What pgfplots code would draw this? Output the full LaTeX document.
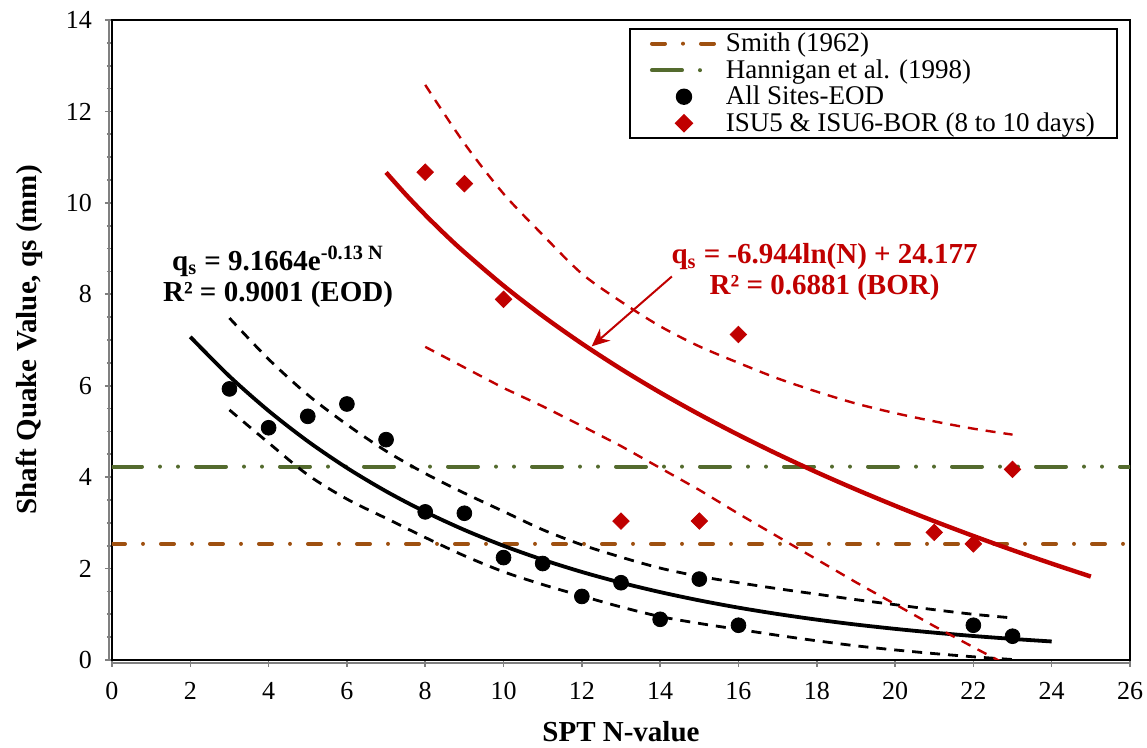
\documentclass[border=0pt]{standalone}
\usepackage{fontspec}
\setmainfont{Liberation Serif}
\usepackage{pgfplots}
\pgfplotsset{compat=1.18}
\usetikzlibrary{arrows.meta}
\definecolor{qred}{RGB}{192,0,0}
\definecolor{smithc}{RGB}{158,80,16}
\definecolor{hannc}{RGB}{84,107,46}
\definecolor{axgray}{RGB}{128,128,128}
\pgfplotsset{myleg/.style={legend image code/.code={\draw[mark repeat=2,mark phase=2,##1] plot coordinates {(0pt,0pt) (16pt,0pt) (32pt,0pt)};}}}
\begin{document}
\begin{tikzpicture}
\begin{axis}[
  scale only axis, width=509pt, height=320pt,
  xmin=0, xmax=26, ymin=0, ymax=14,
  xtick={0,2,...,26}, ytick={0,2,...,14},
  minor y tick num=3,
  xtick pos=left, ytick pos=left,
  tick align=outside,
  major tick length=3.5pt, minor tick length=2.5pt,
  tick style={axgray, line width=0.8pt},
  axis line style={black, line width=1.3pt},
  ticklabel style={font=\fontsize{13}{15}\selectfont},
  /pgf/number format/assume math mode=true,
  xticklabel style={yshift=-4pt},
  yticklabel style={xshift=-3pt},
  xlabel={SPT N-value},
  ylabel={Shaft Quake Value, qs (mm)},
  label style={font=\bfseries\fontsize{14.5}{17}\selectfont},
  xlabel style={at={(axis description cs:0.5,-0.127)}, anchor=base},
  ylabel style={at={(axis description cs:-0.081,0.5)}, anchor=center, rotate=0},
  clip mode=individual,
  legend style={at={(0.988,0.9875)}, anchor=north east, draw=black, line width=0.8pt,
    font=\fontsize{13.5}{13.5}\selectfont, row sep=-1.6pt, inner xsep=10pt, inner ysep=0pt,
    nodes={inner xsep=1pt, inner ysep=2pt},
    /tikz/every odd column/.append style={column sep=3pt}},
  legend cell align=left,
  myleg,
]
\coordinate (ll) at (rel axis cs:0,0);
\coordinate (ur) at (rel axis cs:1,1);

\addplot[smithc, line width=2pt, line cap=round, dash pattern=on 6.5pt off 9pt on 0pt off 9pt] coordinates {(0,2.54) (26,2.54)};
\addlegendentry{Smith (1962)}
\addplot[hannc, line width=2pt, line cap=round, dash pattern=on 15pt off 9pt on 0pt off 9pt on 0pt off 9pt] coordinates {(0,4.23) (26,4.23)};
\addlegendentry{Hannigan et al. (1998)}

\addplot[only marks, mark=*, mark size=3.7pt, black, myleg] table {
x y
3 5.93
4 5.08
5 5.33
6 5.60
7 4.82
8 3.24
9 3.21
10 2.24
11 2.11
12 1.39
13 1.69
14 0.89
15 1.77
16 0.76
22 0.76
23 0.52
};
\addlegendentry{All Sites-EOD}

\addplot[only marks, mark=square*, mark options={rotate=45}, mark size=2.9pt, qred, myleg] table {
x y
8 10.67
9 10.42
10 7.89
13 3.04
15 3.04
16 7.12
21 2.79
22 2.54
23 4.17
};
\addlegendentry{ISU5 \& ISU6-BOR (8 to 10 days)}

% EOD fit and bounds
\addplot[black, line width=1.9pt, smooth, forget plot] coordinates {
(2,7.068) (3,6.206) (4,5.450) (5,4.785) (6,4.202) (7,3.690) (8,3.240) (9,2.845)
(10,2.498) (11,2.194) (12,1.926) (13,1.691) (14,1.485) (15,1.304) (16,1.145)
(17,1.006) (18,0.883) (19,0.775) (20,0.681) (21,0.598) (22,0.525) (23,0.461) (24,0.405)};
\addplot[black, line width=1.4pt, dash pattern=on 5pt off 4pt, smooth, forget plot] coordinates {
(3,7.48) (4,6.58) (5,5.80) (6,5.15) (7,4.57) (8,4.08) (9,3.65) (10,3.25) (11,2.85)
(12,2.52) (13,2.25) (14,2.01) (15,1.83) (16,1.69) (17,1.56) (18,1.44) (19,1.32)
(20,1.21) (21,1.10) (22,1.00) (23,0.92)};
\addplot[black, line width=1.4pt, dash pattern=on 5pt off 4pt, smooth, forget plot] coordinates {
(3,5.47) (4,4.75) (5,4.05) (6,3.52) (7,3.10) (8,2.68) (9,2.28) (10,1.93) (11,1.65)
(12,1.40) (13,1.16) (14,0.95) (15,0.80) (16,0.67) (17,0.54) (18,0.42) (19,0.31)
(20,0.22) (21,0.14) (22,0.07) (23,0.01)};

% BOR fit and bounds
\addplot[qred, line width=2.2pt, smooth, forget plot] coordinates {
(7,10.665) (7.5,10.186) (8,9.737) (8.5,9.316) (9,8.920) (10,8.188) (11,7.526) (12,6.922)
(13,6.366) (14,5.851) (15,5.372) (16,4.924) (17,4.503) (18,4.106) (19,3.731)
(20,3.375) (21,3.036) (22,2.713) (23,2.404) (24,2.109) (25,1.825)};
\addplot[qred, line width=1.2pt, dash pattern=on 5pt off 4pt, smooth, forget plot] coordinates {
(8,12.58) (9,11.30) (10,10.20) (11,9.30) (12,8.45) (13,7.84) (14,7.30) (15,6.86)
(16,6.50) (17,6.16) (18,5.87) (19,5.61) (20,5.40) (21,5.22) (22,5.06) (23,4.93)};
\addplot[qred, line width=1.2pt, dash pattern=on 5pt off 4pt, forget plot] coordinates {
(8,6.85) (9,6.40) (10,5.95) (11,5.55) (12,5.12) (13,4.68) (14,4.20) (15,3.72)
(16,3.20) (17,2.70) (18,2.20) (19,1.70) (20,1.22) (21,0.74) (22,0.28) (22.8,-0.08)};

\draw[axgray, line width=0.9pt] ([xshift=-1.4pt]rel axis cs:0,0) -- ([xshift=-1.4pt]rel axis cs:0,1);
\draw[axgray, line width=0.9pt] ([yshift=-1.4pt]rel axis cs:0,0) -- ([yshift=-1.4pt]rel axis cs:1,0);

\node[align=center, font=\bfseries\fontsize{14.5}{15.5}\selectfont, black] at (axis cs:4.24,8.38)
  {q\textsubscript{s} = 9.1664e\textsuperscript{-0.13 N}\\R² = 0.9001 (EOD)};
\node[align=center, font=\bfseries\fontsize{14.5}{15.5}\selectfont, qred] at (axis cs:18.2,8.48)
  {q\textsubscript{s} = -6.944ln(N) + 24.177\\R² = 0.6881 (BOR)};
\draw[qred, line width=1pt, -{Stealth[length=9pt,width=8pt,inset=3pt]}] (axis cs:14.30,8.39) -- (axis cs:12.25,6.86);
\end{axis}
\pgfresetboundingbox
\path ([shift={(-56pt,-44pt)}]ll) rectangle ([shift={(8.5pt,10pt)}]ur);
\end{tikzpicture}
\end{document}
